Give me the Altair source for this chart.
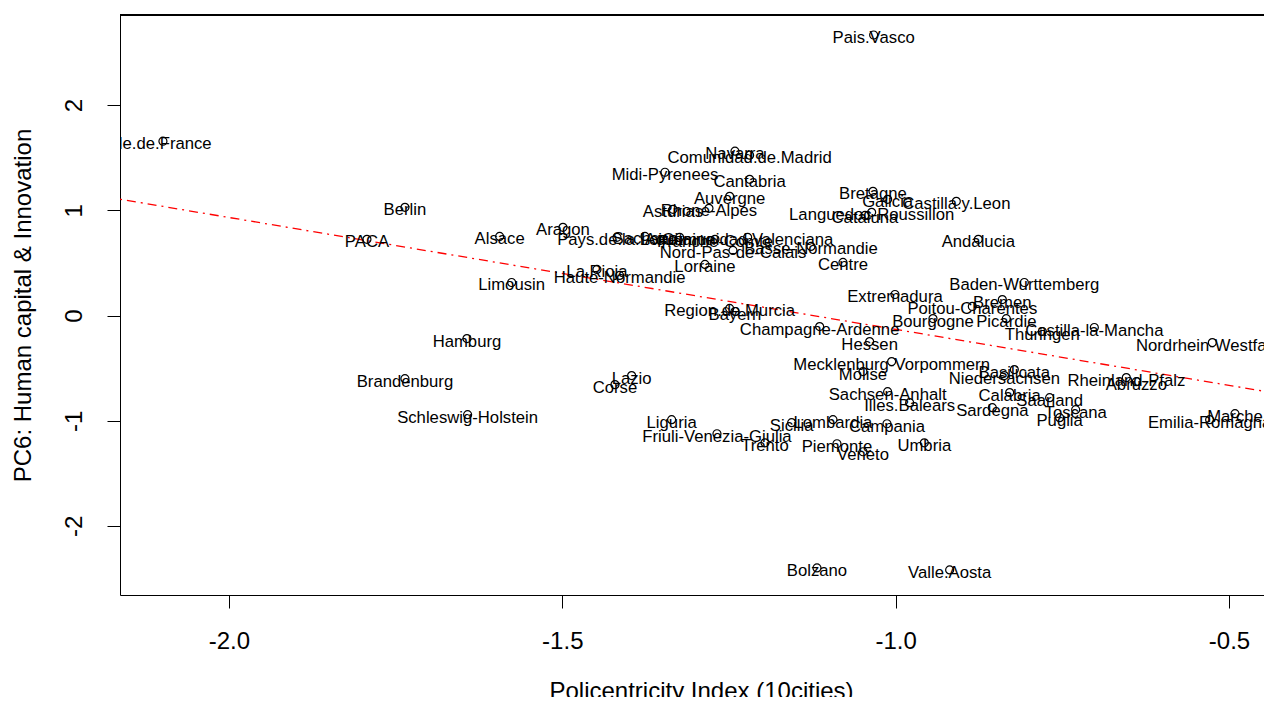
import altair as alt
import pandas as pd

regions = [
    "Ile.de.France", "Pais.Vasco", "Navarra", "Comunidad.de.Madrid", "Midi-Pyrenees",
    "Cantabria", "Auvergne", "Rhone-Alpes", "Asturias", "Bretagne", "Galicia",
    "Castilla.y.Leon", "Languedoc-Roussillon", "Cataluna", "Andalucia", "Berlin",
    "PACA", "Alsace", "Aragon", "Limousin", "La.Rioja", "Haute-Normandie",
    "Pays.de.la.Loire", "Sachsen", "Aquitaine", "Franche-Comte", "Comunidad.Valenciana",
    "Nord-Pas-de-Calais", "Basse-Normandie", "Lorraine", "Centre", "Baden-Wurttemberg",
    "Extremadura", "Bremen", "Poitou-Charentes", "Bourgogne", "Picardie", "Thuringen",
    "Castilla-la-Mancha", "Nordrhein-Westfalen", "Region.de.Murcia", "Bayern",
    "Champagne-Ardenne", "Hessen", "Mecklenburg-Vorpommern", "Molise", "Sachsen-Anhalt",
    "Illes.Balears", "Lombardia", "Sicilia", "Campania", "Liguria", "Friuli-Venezia-Giulia",
    "Trento", "Piemonte", "Veneto", "Umbria", "Lazio", "Corse", "Hamburg", "Brandenburg",
    "Schleswig-Holstein", "Niedersachsen", "Basilicata", "Calabria", "Sardegna", "Saarland",
    "Toscana", "Puglia", "Rheinland-Pfalz", "Abruzzo", "Emilia-Romagna", "Marche",
    "Bolzano", "Valle.Aosta",
]
policentricity = [
    -2.099, -1.033, -1.241, -1.219, -1.346,
    -1.219, -1.249, -1.280, -1.334, -1.034, -1.012,
    -0.909, -1.036, -1.046, -0.876, -1.736,
    -1.793, -1.594, -1.499, -1.576, -1.448, -1.414,
    -1.418, -1.376, -1.324, -1.271, -1.222,
    -1.244, -1.127, -1.286, -1.079, -0.807,
    -1.001, -0.840, -0.885, -0.944, -0.834, -0.780,
    -0.702, -0.525, -1.249, -1.241,
    -1.114, -1.039, -1.006, -1.049, -1.012,
    -0.979, -1.094, -1.156, -1.013, -1.336, -1.268,
    -1.196, -1.088, -1.049, -0.957, -1.396, -1.421, -1.643, -1.736,
    -1.642, -0.837, -0.822, -0.829, -0.855, -0.769,
    -0.730, -0.754, -0.654, -0.639, -0.529, -0.491,
    -1.118, -0.919,
]
pc6 = [
    1.657, 2.667, 1.562, 1.524, 1.362,
    1.295, 1.133, 1.019, 1.010, 1.181, 1.105,
    1.086, 0.981, 0.952, 0.724, 1.029,
    0.724, 0.752, 0.838, 0.314, 0.438, 0.381,
    0.743, 0.752, 0.743, 0.724, 0.743,
    0.619, 0.657, 0.486, 0.505, 0.314,
    0.200, 0.152, 0.086, -0.029, -0.030, -0.152,
    -0.114, -0.257, 0.067, 0.038,
    -0.105, -0.248, -0.438, -0.533, -0.724,
    -0.829, -0.990, -1.019, -1.029, -0.990, -1.124,
    -1.210, -1.219, -1.295, -1.210, -0.571, -0.657, -0.219, -0.600,
    -0.943, -0.571, -0.514, -0.733, -0.876, -0.781,
    -0.895, -0.971, -0.590, -0.629, -0.990, -0.933,
    -2.400, -2.419,
]

# fitted line (abline of lm)
fit_intercept = -1.196
fit_slope = -1.064

x_domain = [-2.1634, -0.4475]
y_domain = [-2.657, 2.857]
x_ticks = [-2.0, -1.5, -1.0, -0.5]
y_ticks = [-2, -1, 0, 1, 2]

W, H = 1144, 580

df = pd.DataFrame({"region": regions, "x": policentricity, "y": pc6})
line_df = pd.DataFrame({
    "x": x_domain,
    "y": [fit_intercept + fit_slope * v for v in x_domain],
})

xs = alt.Scale(domain=x_domain, nice=False, zero=False)
ys = alt.Scale(domain=y_domain, nice=False, zero=False)

x_enc = alt.X(
    "x:Q", scale=xs,
    axis=alt.Axis(
        values=x_ticks, title="Policentricity Index (10cities)",
        labelExpr="(datum.value < 0 ? '-' : '') + format(abs(datum.value), '.1f')",
        titleX=581, titleY=103, titleBaseline="alphabetic",
        titleAlign="center",
    ),
)
y_enc = alt.Y(
    "y:Q", scale=ys,
    axis=alt.Axis(
        values=y_ticks, title="PC6: Human capital & Innovation",
        labelExpr="(datum.value < 0 ? '-' : '') + format(abs(datum.value), 'd')",
        labelAngle=270, labelAlign="center", labelBaseline="middle",
        titleX=-97, titleY=290, titleBaseline="middle", titleAlign="center",
        titleAngle=270,
    ),
)

points = alt.Chart(df).mark_point(
    shape="circle", filled=False, color="black", size=64, strokeWidth=1.2,
    opacity=1, clip=True
).encode(x=x_enc, y=y_enc)

labels = alt.Chart(df).mark_text(
    font="Liberation Sans", fontSize=16.7, color="black", baseline="middle",
    align="center", dy=3, clip=True
).encode(x="x:Q", y="y:Q", text="region:N")

fit = alt.Chart(line_df).mark_line(
    color="red", strokeWidth=1.3, strokeDash=[2, 5, 9, 5], clip=True
).encode(x="x:Q", y="y:Q")

top_border = alt.Chart(df).mark_rule(color="black", strokeWidth=1).encode(
    x=alt.value(0), x2=alt.value(W), y=alt.value(0)
)

chart = alt.layer(fit, points, labels, top_border).properties(
    width=W, height=H,
    autosize=alt.AutoSizeParams(type="none"),
    padding={"left": 112, "top": 7, "right": 0, "bottom": 102},
).configure_view(stroke=None).configure_axis(
    domainColor="black", domainWidth=1, tickColor="black", tickWidth=1, tickSize=13,
    labelFont="Liberation Sans", labelFontSize=24, labelColor="black", labelPadding=33,
    titleFont="Liberation Sans", titleFontSize=24, titleColor="black",
    titleFontWeight="normal", grid=False,
).configure_axisX(labelBaseline="middle", labelAlign="center")

chart.save("out.html", embed_options={"renderer": "svg", "actions": False})
